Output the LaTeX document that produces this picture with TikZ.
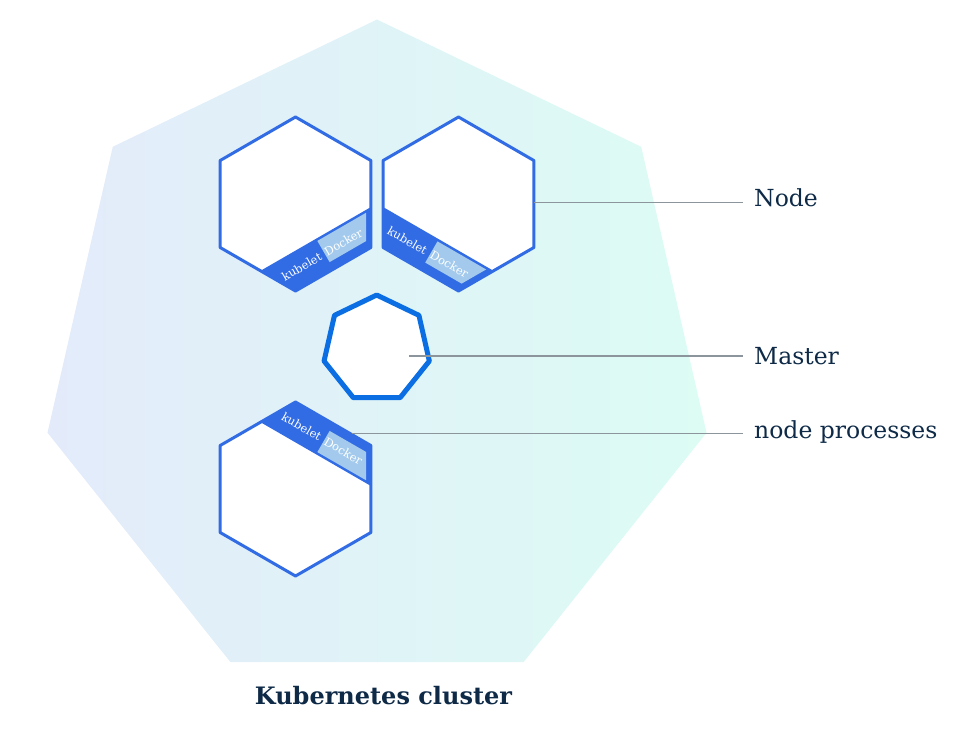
\documentclass[tikz,border=0pt]{standalone}
\usepackage{fontspec}
\setmainfont{DejaVu Serif}
\usetikzlibrary{calc}
\definecolor{kblue}{HTML}{326CE5}
\definecolor{mblue}{HTML}{0B6FE3}
\definecolor{dockbox}{HTML}{A3CAEC}
\definecolor{linegray}{HTML}{8C949C}
\definecolor{navy}{HTML}{0E2A47}
\definecolor{gleft}{HTML}{E3EBFA}
\definecolor{gright}{HTML}{DCFCF4}
\tikzset{
  hexline/.style={draw=kblue,line width=3pt,line join=round},
  kub/.style={text=white,inner sep=0pt,font=\fontsize{11.5}{12}\selectfont},
  conn/.style={draw=linegray,line width=1.3pt},
  lbl/.style={text=navy,inner xsep=11pt,inner ysep=2pt,font=\fontsize{23.5}{28}\selectfont},
  title/.style={text=navy,inner sep=0pt,font=\fontsize{24}{28}\selectfont\bfseries},
  master/.style={draw=mblue,fill=white,line width=5pt,line join=round}
}
\newcommand\kubehex[5]{%
\begin{scope}[shift={#1},rotate=#2,yscale=#3]
  \coordinate (#5) at (0,0);
  \fill[white] (30:87) -- (90:87) -- (150:87) -- (210:87) -- (270:87) -- (330:87) -- cycle;
  \fill[kblue] (75.34,-3.1) -- (-35,-66.8) -- (0,-87) -- (75.34,-43.5) -- cycle;
  \fill[dockbox] (34.1,-58.1) -- (21.85,-36.9) -- (70.5,-8.8) -- (70.5,-37.1) -- cycle;
  \draw[hexline] (30:87) -- (90:87) -- (150:87) -- (210:87) -- (270:87) -- (330:87) -- cycle;
  \node[kub,rotate=#4] (#5-k) at (6.2,-62.6) {kubelet};
  \node[kub,rotate=#4] (#5-d) at (47.8,-38.0) {Docker};
\end{scope}}
\begin{document}
\begin{tikzpicture}[x=1pt,y=1pt]
\useasboundingbox (0,0) rectangle (965,-729);
% cluster background
\shade[shift={(377,-357.5)},left color=gleft,right color=gright]
  (90:338) -- (38.571:338) -- (-12.857:338) -- (-64.286:338) -- (-115.714:338) -- (-167.143:338) -- (141.429:338) -- cycle;
% worker nodes
\kubehex{(295.5,-204)}{0}{1}{30}{hexA}
\kubehex{(458.5,-204)}{-60}{1}{-30}{hexB}
\kubehex{(295.5,-489)}{0}{-1}{-30}{hexC}
% master
\begin{scope}[shift={(376.7,-349)}]
  \coordinate (master) at (0,0);
  \draw[master] (90:54) -- (38.571:54) -- (-12.857:54) -- (-64.286:54) -- (-115.714:54) -- (-167.143:54) -- (141.429:54) -- cycle;
\end{scope}
% labels
\node[lbl,anchor=base west] (lblNode) at (743,-206.7) {Node};
\node[lbl,anchor=base west] (lblMaster) at (743,-364) {Master};
\node[lbl,anchor=base west] (lblProc) at (743,-438.3) {node processes};
\node[title,anchor=base] (lblCluster) at (383.5,-704) {Kubernetes cluster};
% connectors
\coordinate (nodeStart) at (534,-202.3);
\coordinate (masterStart) at (409.3,-356);
\coordinate (procStart) at (351.7,-433.5);
\draw[conn] (nodeStart) -- (nodeStart -| lblNode.west);
\draw[conn] (masterStart) -- (masterStart -| lblMaster.west);
\draw[conn] (procStart) -- (procStart -| lblProc.west);
\end{tikzpicture}
\end{document}
